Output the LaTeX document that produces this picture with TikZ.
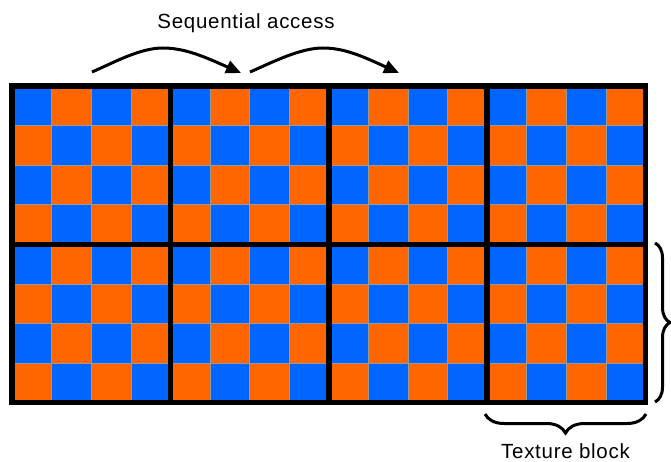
\documentclass[tikz,border=0pt]{standalone}
\usepackage{fontspec}
\setmainfont{Liberation Sans}
\usetikzlibrary{arrows.meta,decorations.pathreplacing}
\definecolor{cellblue}{HTML}{0066FF}
\definecolor{cellorange}{HTML}{FF6600}
\begin{document}
\begin{tikzpicture}[x=1pt,y=-1pt,
  cellgrid/.style={draw=black!40, line width=0.5pt},
  blockline/.style={line width=5.5pt},
  accessarrow/.style={line width=3pt, -{Triangle[length=15pt,width=13pt]}},
  bracestroke/.style={decorate, line width=3pt, decoration={brace, amplitude=#1}},
  caption/.style={font=\fontsize{20.5}{24}\selectfont\addfontfeatures{LetterSpace=3.5}, inner sep=0pt}]
\useasboundingbox (0,0) rectangle (671,462);

% texture: 16 x 8 checkerboard of cells
\def\gl{12}\def\gt{86}\def\gr{645.5}\def\gb{402.5}
\def\cw{39.59375}\def\ch{39.5625}
\fill[cellblue] (\gl,\gt) rectangle (\gr,\gb);
\foreach \i in {0,...,15}{
  \foreach \j in {0,...,7}{
    \pgfmathtruncatemacro\parity{mod(\i+\j,2)}
    \ifnum\parity=1
      \fill[cellorange] ({\gl+\i*\cw},{\gt+\j*\ch}) rectangle ++(\cw,\ch);
    \fi
  }}
% faint cell edges
\foreach \i in {1,...,15}
  \draw[cellgrid] ({\gl+\i*\cw},\gt) -- ({\gl+\i*\cw},\gb);
\foreach \j in {1,...,7}
  \draw[cellgrid] (\gl,{\gt+\j*\ch}) -- (\gr,{\gt+\j*\ch});

% block boundaries (4 x 2 blocks of 4 x 4 cells)
\foreach \k in {1,2,3}
  \draw[blockline] ({\gl+\k*4*\cw},\gt) -- ({\gl+\k*4*\cw},\gb);
\draw[blockline] (\gl,{\gt+4*\ch}) -- (\gr,{\gt+4*\ch});
\draw[blockline] (\gl,\gt) rectangle (\gr,\gb);

% sequential access label and arrows
\node[caption, anchor=base] (seqlabel) at (246,28.3) {Sequential access};
\coordinate (accAs) at (92,72);
\coordinate (accAt) at (241,73);
\coordinate (accBs) at (250,72);
\coordinate (accBt) at (399,73);
\draw[accessarrow] (accAs) .. controls (115,62) and (140,48) .. (163,48)
  .. controls (185,48) and (205,57) .. (accAt);
\draw[accessarrow] (accBs) .. controls (273,62) and (300,48) .. (323,48)
  .. controls (345,48) and (364,57) .. (accBt);

% texture block braces
\coordinate (rbTop) at (655,243);
\coordinate (rbBot) at (655,402);
\draw[bracestroke=15pt] (rbTop) -- (rbBot);
\coordinate (bbRight) at (646,414);
\coordinate (bbLeft) at (485,414);
\draw[bracestroke=19pt] (bbRight) -- (bbLeft);
\node[caption, anchor=base] (blocklabel) at (565.5,458.3) {Texture block};
\end{tikzpicture}
\end{document}
